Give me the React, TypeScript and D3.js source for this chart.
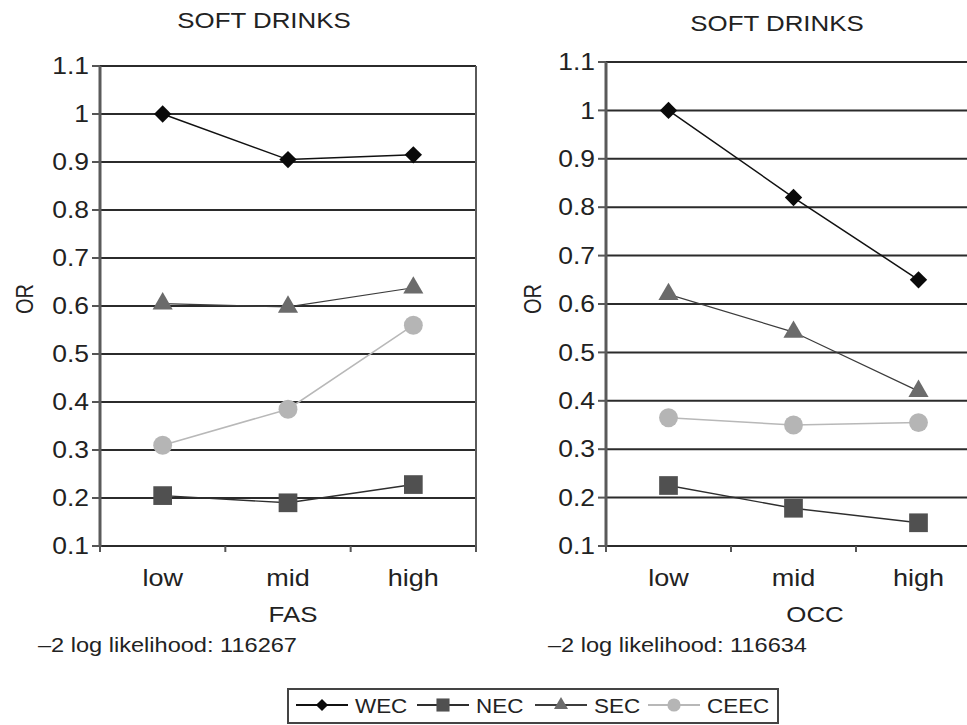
import React from 'react';
import * as d3 from 'd3';

const categories = ['low', 'mid', 'high'];
const yTicks = [0.1, 0.2, 0.3, 0.4, 0.5, 0.6, 0.7, 0.8, 0.9, 1, 1.1];
const seriesNames = ['WEC', 'NEC', 'SEC', 'CEEC'];

// FAS panel
const fasWEC = [1.0, 0.905, 0.915];
const fasNEC = [0.205, 0.19, 0.228];
const fasSEC = [0.605, 0.598, 0.638];
const fasCEEC = [0.31, 0.385, 0.56];

// OCC panel
const occWEC = [1.0, 0.82, 0.65];
const occNEC = [0.225, 0.178, 0.148];
const occSEC = [0.62, 0.542, 0.42];
const occCEEC = [0.365, 0.35, 0.355];

const FONT = '"Liberation Sans", Arial, sans-serif';
// the scan is a bit wider than tall, so text gets stretched sideways
const STRETCH = 1.15;

interface SeriesStyle {
  marker: string;
  fill: string;
  line: string;
  lineWidth: number;
}

const styles: {[k: string]: SeriesStyle} = {
  WEC: {marker: 'diamond', fill: '#0a0a0a', line: '#111', lineWidth: 1.5},
  NEC: {marker: 'square', fill: '#505050', line: '#2e2e2e', lineWidth: 1.4},
  SEC: {marker: 'triangle', fill: '#6b6b6b', line: '#3c3c3c', lineWidth: 1.2},
  CEEC: {marker: 'circle', fill: '#b5b5b5', line: '#b8b8b8', lineWidth: 1.5},
};

const markerPath = (kind: string, scale = 1): string => {
  if (kind === 'diamond') return d3.symbol(d3.symbolSquare, 150 * scale * scale)()!;
  if (kind === 'square') return d3.symbol(d3.symbolSquare, 350 * scale * scale)()!;
  if (kind === 'triangle') return d3.symbol(d3.symbolTriangle, 175 * scale * scale)()!;
  return d3.symbol(d3.symbolCircle, 280 * scale * scale)()!;
};

interface TProps {
  x: number;
  y: number;
  size: number;
  anchor?: 'start' | 'middle' | 'end';
  dy?: string;
  children: React.ReactNode;
}

const T = ({x, y, size, anchor = 'start', dy, children}: TProps) => (
  <g transform={`translate(${x},${y}) scale(${STRETCH},1)`}>
    <text textAnchor={anchor} dy={dy} fontSize={size} fill="#222" fontFamily={FONT}>
      {children}
    </text>
  </g>
);

interface PanelProps {
  left: number;
  right: number;
  top: number;
  bottom: number;
  data: number[][];
  title: string;
  titleX: number;
  titleY: number;
  xLabel: string;
  xLabelX: number;
  orX: number;
  note: string;
  noteX: number;
  rightBorder: boolean;
}

const Panel = (p: PanelProps) => {
  const x = d3.scaleBand<string>().domain(categories).range([p.left, p.right]);
  const y = d3.scaleLinear().domain([0.1, 1.1]).range([p.bottom, p.top]);
  const cx = (i: number) => x(categories[i])! + x.bandwidth() / 2;
  const line = d3
    .line<number>()
    .x((_, i) => cx(i))
    .y(d => y(d));
  const bounds = [...categories.map(c => x(c)!), p.right];

  return (
    <g>
      <T x={p.titleX} y={p.titleY} size={22.5} anchor="middle">
        {p.title}
      </T>
      {yTicks.map(t => (
        <g key={t}>
          <line x1={p.left} x2={p.right} y1={y(t)} y2={y(t)} stroke="#2b2b2b" strokeWidth={2} />
          <line x1={p.left - 8} x2={p.left} y1={y(t)} y2={y(t)} stroke="#555" strokeWidth={2} />
          <T x={p.left - 11} y={y(t)} size={23} anchor="end" dy="0.36em">
            {String(t)}
          </T>
        </g>
      ))}
      <line x1={p.left} x2={p.left} y1={p.top} y2={p.bottom + 1} stroke="#5a5a5a" strokeWidth={3} />
      {p.rightBorder && (
        <line x1={p.right} x2={p.right} y1={p.top} y2={p.bottom + 6} stroke="#5a5a5a" strokeWidth={2} />
      )}
      {bounds.map((b, i) => (
        <line key={i} x1={b} x2={b} y1={p.bottom} y2={p.bottom + 6} stroke="#555" strokeWidth={2} />
      ))}
      {categories.map((c, i) => (
        <T key={c} x={cx(i)} y={586} size={23.5} anchor="middle">
          {c}
        </T>
      ))}
      <T x={p.xLabelX} y={622} size={22.5} anchor="middle">
        {p.xLabel}
      </T>
      <T x={p.noteX} y={652} size={20.5}>
        {p.note}
      </T>
      <text
        transform={`translate(${p.orX},299) rotate(-90) scale(1,${STRETCH})`}
        textAnchor="middle"
        dy="0.36em"
        fontSize={20}
        fill="#222"
        fontFamily={FONT}>
        OR
      </text>
      {p.data.map((vals, si) => {
        const s = styles[seriesNames[si]];
        return (
          <g key={si}>
            <path d={line(vals)!} fill="none" stroke={s.line} strokeWidth={s.lineWidth} />
            {vals.map((v, i) => (
              <path
                key={i}
                d={markerPath(s.marker)}
                fill={s.fill}
                transform={`translate(${cx(i)},${y(v)})${s.marker === 'diamond' ? ' rotate(45)' : ''}`}
              />
            ))}
          </g>
        );
      })}
    </g>
  );
};

const Legend = () => {
  const itemX = d3.scaleOrdinal<string, number>().domain(seriesNames).range([296, 417, 535, 648]);
  const cy = 705;
  return (
    <g>
      <rect x={288} y={689} width={490} height={34} fill="none" stroke="#444" strokeWidth={2} />
      {seriesNames.map(n => {
        const s = styles[n];
        const x0 = itemX(n);
        return (
          <g key={n}>
            <line x1={x0} x2={x0 + 52} y1={cy} y2={cy} stroke={s.line} strokeWidth={2} />
            <path
              d={markerPath(s.marker, 0.7)}
              fill={s.fill}
              transform={`translate(${x0 + 26},${cy})${s.marker === 'diamond' ? ' rotate(45)' : ''}`}
            />
            <T x={x0 + 59} y={713} size={19.5}>
              {n}
            </T>
          </g>
        );
      })}
    </g>
  );
};

export default function App() {
  return (
    <svg width={967} height={725} style={{position: 'absolute', left: 0, top: 0, background: '#fff'}}>
      <Panel
        left={100}
        right={476}
        top={66}
        bottom={546}
        data={[fasWEC, fasNEC, fasSEC, fasCEEC]}
        title="SOFT DRINKS"
        titleX={264}
        titleY={28}
        xLabel="FAS"
        xLabelX={293}
        orX={25}
        note="–2 log likelihood: 116267"
        noteX={38}
        rightBorder={true}
      />
      <Panel
        left={606}
        right={981}
        top={62}
        bottom={546}
        data={[occWEC, occNEC, occSEC, occCEEC]}
        title="SOFT DRINKS"
        titleX={777}
        titleY={31}
        xLabel="OCC"
        xLabelX={815}
        orX={533}
        note="–2 log likelihood: 116634"
        noteX={548}
        rightBorder={false}
      />
      <Legend />
    </svg>
  );
}
